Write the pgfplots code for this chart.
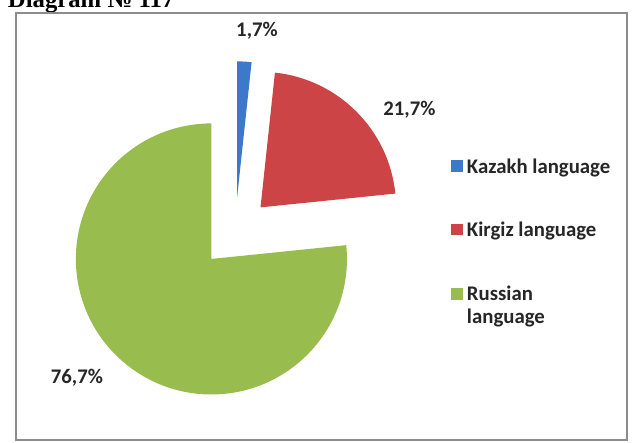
\documentclass[border=0pt]{standalone}
\usepackage{fontspec}
\setmainfont{Carlito}
\newfontfamily\titlefont{Liberation Serif}
\usepackage{pgfplots}
\usepackage{pgfplotstable}
\pgfplotsset{compat=1.18}

\definecolor{kazblue}{HTML}{3C79C8}
\definecolor{kirred}{HTML}{CC4446}
\definecolor{rusgreen}{HTML}{98BD4E}
\definecolor{labeltext}{HTML}{262626}

% shares in percent, Kazakh / Kirgiz / Russian
\pgfplotstableread{
lang share
Kazakh 1.7
Kirgiz 21.7
Russian 76.7
}\shares

% pie geometry in pixels of the original (1 unit = 1pt)
\def\cx{231}\def\cy{212}
\def\rad{137pt}
\def\expl{36pt}

% draw one exploded slice: start angle, end angle, colour
\newcommand\slice[3]{%
  \fill[#3, shift={({(#1+#2)/2}:\expl)}] (axis cs:\cx,\cy) -- ++(#1:\rad)
    arc[start angle=#1, end angle=#2, radius=\rad] -- cycle;
}
\tikzset{lbl/.style={inner sep=0pt, text=labeltext, font=\bfseries\fontsize{21}{25}\selectfont}}

\begin{document}
\pgfplotstablegetelem{0}{share}\of\shares \let\vA\pgfplotsretval
\pgfplotstablegetelem{1}{share}\of\shares \let\vB\pgfplotsretval
\pgfplotstablegetelem{2}{share}\of\shares \let\vC\pgfplotsretval
\pgfmathsetmacro\tot{\vA+\vB+\vC}
\pgfmathsetmacro\aA{90-\vA/\tot*360}
\pgfmathsetmacro\aB{\aA-\vB/\tot*360}
\begin{tikzpicture}
\begin{axis}[
    x=1pt, y=1pt,
    xmin=0, xmax=633, ymin=0, ymax=447,
    hide axis,
    clip=false,
]
\coordinate (bl) at (axis cs:0,0);
\coordinate (tr) at (axis cs:633,447);

% title, cut at the top as in the scan
\node[anchor=base west, inner sep=0pt, text=black, font=\titlefont\bfseries\fontsize{25}{30}\selectfont]
  at (axis cs:1,439) {Diagram № 117};

% chart frame
\draw[line width=2.5pt, black!45] (axis cs:9.5,434) rectangle (axis cs:627,2.5);

\slice{90}{\aA}{kazblue}
\slice{\aA}{\aB}{kirred}
\slice{\aB}{-270}{rusgreen}

% data labels
\node[lbl, anchor=base] at (axis cs:253,410) {1,7\%};
\node[lbl, anchor=base] at (axis cs:407,330) {21,7\%};
\node[lbl, anchor=base] at (axis cs:71,59) {76,7\%};

% legend
\fill[kazblue] (axis cs:449,285) rectangle (axis cs:461,273);
\fill[kirred] (axis cs:449,221) rectangle (axis cs:461,209);
\fill[rusgreen] (axis cs:449,156) rectangle (axis cs:461,144);
\node[lbl, anchor=base west] at (axis cs:465,272) {Kazakh language};
\node[lbl, anchor=base west] at (axis cs:465,208) {Kirgiz language};
\node[lbl, anchor=base west] at (axis cs:465,143) {Russian};
\node[lbl, anchor=base west] at (axis cs:465,120) {language};
\end{axis}
\pgfresetboundingbox
\path[use as bounding box] (bl) rectangle (tr);
\end{tikzpicture}
\end{document}
